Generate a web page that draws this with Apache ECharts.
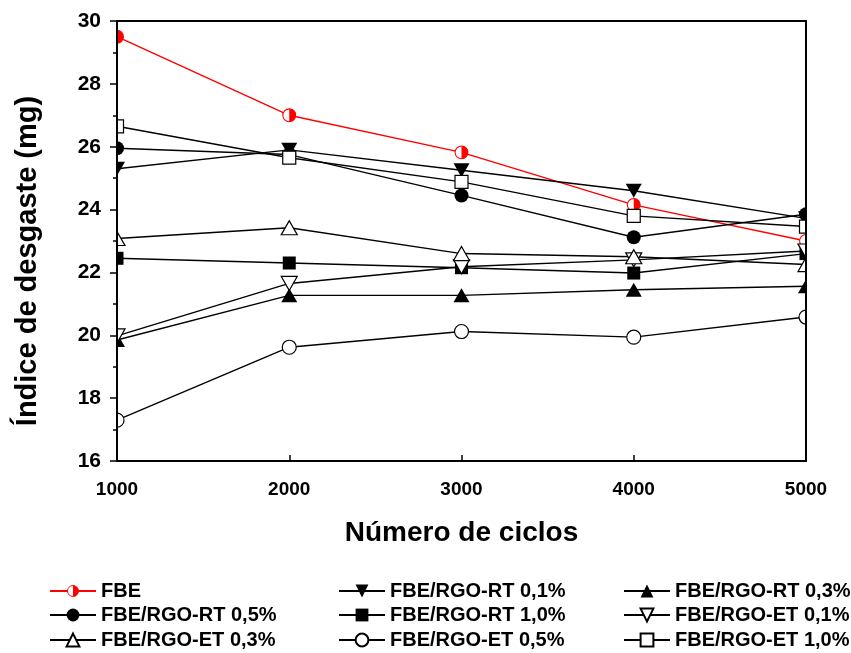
<!DOCTYPE html>
<html>
<head>
<meta charset="utf-8">
<script src="https://cdn.jsdelivr.net/npm/echarts@6/dist/echarts.min.js"></script>
<style>
  html, body { margin: 0; padding: 0; background: #fff; }
  #chart { width: 851px; height: 653px; }
</style>
</head>
<body>
<div id="chart"></div>
<script>
// Wear index (mg) vs number of cycles for each coating
const cycles = [1000, 2000, 3000, 4000, 5000];
const yTicks = [16, 18, 20, 22, 24, 26, 28, 30];

const fbe    = [29.5, 27.0, 25.82, 24.15, 23.0];
const rt01   = [25.3, 25.9, 25.25, 24.6, 23.72];
const rt03   = [19.85, 21.27, 21.27, 21.45, 21.56];
const rt05   = [25.95, 25.75, 24.45, 23.12, 23.85];
const rt10   = [22.45, 22.3, 22.15, 21.98, 22.6];
const et01   = [19.98, 21.65, 22.18, 22.4, 22.68];
const et03   = [23.08, 23.42, 22.6, 22.5, 22.25];
const et05   = [17.3, 19.62, 20.12, 19.94, 20.58];
const et10   = [26.65, 25.65, 24.88, 23.8, 23.46];

const names = [
  'FBE', 'FBE/RGO-RT 0,1%', 'FBE/RGO-RT 0,3%',
  'FBE/RGO-RT 0,5%', 'FBE/RGO-RT 1,0%', 'FBE/RGO-ET 0,1%',
  'FBE/RGO-ET 0,3%', 'FBE/RGO-ET 0,5%', 'FBE/RGO-ET 1,0%'
];

// half-filled red circle marker
const halfSvg = "<svg xmlns='http://www.w3.org/2000/svg' width='28' height='28' viewBox='0 0 28 28'>" +
  "<circle cx='14' cy='14' r='12' fill='white' stroke='red' stroke-width='2'/>" +
  "<path d='M14 2 A12 12 0 0 1 14 26 Z' fill='red'/></svg>";
const halfCircle = 'image://data:image/svg+xml;charset=utf-8,' + encodeURIComponent(halfSvg);

const downTri = 'path://M0,0 L20,0 L10,18 Z';
const upTri = 'triangle';
const FONT = 'Liberation Sans, Arial, sans-serif';

function pairs(vals) { return cycles.map((c, i) => [c, vals[i]]); }

function mk(name, vals, symbol, size, filled, color) {
  color = color || '#000';
  return {
    name: name,
    type: 'line',
    data: pairs(vals),
    symbol: symbol,
    symbolSize: size,
    showAllSymbol: true,
    clip: true,
    z: 2,
    lineStyle: { color: color, width: 1.4 },
    itemStyle: {
      color: filled ? color : '#fff',
      borderColor: color,
      borderWidth: filled ? 0 : 1.2
    },
    emphasis: { disabled: true },
    animation: false
  };
}

const series = [
  mk(names[0], fbe, halfCircle, 15, true, '#ff0000'),
  mk(names[1], rt01, downTri, [16, 14], true),
  mk(names[2], rt03, upTri, [16, 14], true),
  mk(names[3], rt05, 'circle', 14, true),
  mk(names[4], rt10, 'rect', 13, true),
  mk(names[5], et01, downTri, [16, 14], false),
  mk(names[6], et03, upTri, [16, 14], false),
  mk(names[7], et05, 'circle', 14, false),
  mk(names[8], et10, 'rect', 13, false)
];

// legend laid out as a 3 x 3 table, one legend block per entry
const legendCols = [44, 333, 618];
const legendRows = [576, 600, 625];
const legends = names.map((n, i) => ({
  left: legendCols[i % 3], top: legendRows[Math.floor(i / 3)],
  orient: 'horizontal', itemWidth: 46, itemHeight: 16,
  textStyle: { fontFamily: FONT, fontWeight: 'bold', fontSize: 20, color: '#000' },
  data: [n], selectedMode: false
}));

const chart = echarts.init(document.getElementById('chart'), null, { renderer: 'canvas' });
const G = { left: 117, top: 21, right: 45, bottom: 192 };
chart.setOption({
  backgroundColor: '#fff',
  animation: false,
  grid: { left: G.left, top: G.top, right: G.right, bottom: G.bottom, containLabel: false },
  xAxis: [{
    type: 'value', min: 1000, max: 5000, interval: 1000, z: 5,
    name: 'Número de ciclos', nameLocation: 'middle', nameGap: 58,
    nameTextStyle: { fontFamily: FONT, fontWeight: 'bold', fontSize: 28, color: '#000' },
    axisLine: { show: true, lineStyle: { color: '#000', width: 2 } },
    axisTick: { show: true, inside: true, length: 6, lineStyle: { color: '#000', width: 1.5 } },
    axisLabel: { fontFamily: FONT, fontWeight: 'bold', fontSize: 19, color: '#000', margin: 19, formatter: v => String(v) },
    splitLine: { show: false }
  }, {
    type: 'value', position: 'top', min: 1000, max: 5000, interval: 1000, z: 5,
    axisLine: { show: true, lineStyle: { color: '#000', width: 2 } },
    axisTick: { show: false }, axisLabel: { show: false }, splitLine: { show: false }
  }],
  yAxis: [{
    type: 'value', min: 16, max: 30, interval: 2, z: 5,
    name: 'Índice de desgaste (mg)', nameLocation: 'middle', nameGap: 75, nameRotate: 90,
    nameTextStyle: { fontFamily: FONT, fontWeight: 'bold', fontSize: 29, color: '#000', padding: [0, 40, 0, 0] },
    axisLine: { show: true, lineStyle: { color: '#000', width: 2 } },
    axisTick: { show: true, inside: false, length: 7, lineStyle: { color: '#000', width: 1.5 } },
    minorTick: { show: true, splitNumber: 2, length: 4, lineStyle: { color: '#000', width: 1.5 } },
    axisLabel: {
      fontFamily: FONT, fontWeight: 'bold', fontSize: 21, color: '#000', margin: 16,
      formatter: v => yTicks.includes(v) ? String(v) : ''
    },
    splitLine: { show: false }
  }, {
    type: 'value', position: 'right', min: 16, max: 30, interval: 2, z: 5,
    axisLine: { show: true, lineStyle: { color: '#000', width: 2 } },
    axisTick: { show: false }, axisLabel: { show: false }, splitLine: { show: false }
  }],
  legend: legends,
  // white masks just outside the plot box so edge markers look cut by the frame
  graphic: [
    { type: 'rect', z: 3, shape: { x: 100, y: G.top - 2, width: G.left - 100, height: 653 - G.bottom - G.top + 4 }, style: { fill: '#fff' } },
    { type: 'rect', z: 3, shape: { x: 851 - G.right, y: G.top - 2, width: 14, height: 653 - G.bottom - G.top + 4 }, style: { fill: '#fff' } }
  ],
  series: series
});
</script>
</body>
</html>
